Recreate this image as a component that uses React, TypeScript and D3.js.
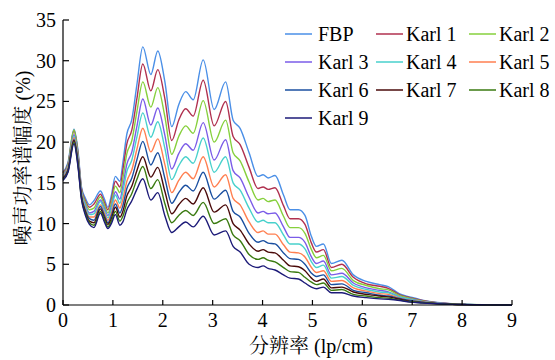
import React from "react";
import * as d3 from "d3";

const xs = [0, 0.1, 0.22, 0.3, 0.37, 0.45, 0.53, 0.62, 0.75, 0.83, 0.9, 0.97, 1.05, 1.14, 1.2, 1.28, 1.38, 1.48, 1.6, 1.76, 1.9, 2.04, 2.18, 2.32, 2.46, 2.61, 2.81, 3.03, 3.26, 3.41, 3.55, 3.73, 3.91, 4.01, 4.11, 4.25, 4.42, 4.55, 4.72, 4.85, 4.98, 5.08, 5.22, 5.38, 5.59, 5.82, 6.08, 6.35, 6.52, 6.75, 6.95, 7.2, 7.5, 7.8, 8.1, 8.5, 9];

const fbp = [16.3, 17.5, 21.6, 19.0, 14.5, 13.1, 12.3, 12.8, 14.0, 13.0, 12.0, 13.5, 15.8, 15.2, 17.5, 21.0, 22.8, 27.0, 31.7, 28.3, 31.2, 27.5, 21.9, 24.6, 26.2, 25.2, 30.1, 24.0, 27.4, 22.7, 21.7, 18.7, 15.8, 16.0, 15.6, 15.9, 13.5, 11.7, 11.7, 11.0, 8.4, 7.2, 7.5, 5.1, 5.5, 3.7, 2.9, 2.5, 2.25, 1.35, 1.0, 0.6, 0.3, 0.15, 0.08, 0.03, 0];
const karl1 = [16.2, 17.3, 21.4, 18.7, 14.3, 12.8, 12.0, 12.4, 13.6, 12.6, 11.7, 13.0, 15.2, 14.5, 16.6, 19.8, 21.5, 25.3, 29.6, 26.3, 28.9, 25.4, 20.2, 22.7, 24.1, 23.2, 27.6, 22.0, 25.0, 20.7, 19.7, 16.9, 14.3, 14.5, 14.2, 14.4, 12.2, 10.6, 10.6, 9.9, 7.6, 6.5, 6.8, 4.6, 5.0, 3.4, 2.6, 2.3, 2.05, 1.25, 0.9, 0.55, 0.28, 0.14, 0.07, 0.03, 0];
const karl2 = [16.0, 17.2, 21.5, 18.5, 14.1, 12.6, 11.7, 11.9, 13.3, 12.3, 11.3, 12.6, 14.6, 13.8, 15.6, 18.6, 20.2, 23.7, 27.4, 24.3, 26.7, 23.2, 18.5, 20.7, 22.0, 21.1, 25.1, 20.0, 22.7, 18.7, 17.7, 15.1, 12.9, 13.1, 12.7, 12.9, 10.9, 9.5, 9.5, 8.8, 6.8, 5.8, 6.1, 4.2, 4.5, 3.0, 2.4, 2.0, 1.85, 1.15, 0.85, 0.5, 0.26, 0.13, 0.07, 0.03, 0];
const karl3 = [15.9, 17.0, 20.9, 18.2, 13.9, 12.3, 11.3, 11.5, 12.9, 11.9, 11.0, 12.1, 13.9, 13.0, 14.6, 17.3, 18.8, 21.9, 25.3, 22.1, 24.2, 20.9, 16.7, 18.6, 19.8, 19.0, 22.4, 17.8, 20.3, 16.5, 15.6, 13.2, 11.3, 11.5, 11.2, 11.3, 9.6, 8.3, 8.3, 7.7, 5.9, 5.1, 5.4, 3.7, 3.9, 2.7, 2.1, 1.8, 1.6, 1.0, 0.75, 0.45, 0.24, 0.12, 0.06, 0.03, 0];
const karl4 = [15.8, 16.9, 20.7, 18.0, 13.8, 12.1, 11.1, 11.2, 12.7, 11.6, 10.7, 11.8, 13.5, 12.5, 13.9, 16.4, 17.8, 20.6, 23.6, 20.6, 22.5, 19.3, 15.4, 17.1, 18.2, 17.4, 20.5, 16.3, 18.2, 15.0, 14.1, 11.9, 10.2, 10.4, 10.1, 10.1, 8.6, 7.5, 7.5, 6.9, 5.3, 4.6, 4.9, 3.3, 3.5, 2.4, 1.9, 1.6, 1.5, 0.95, 0.7, 0.42, 0.22, 0.11, 0.06, 0.02, 0];
const karl5 = [15.7, 16.8, 20.5, 17.8, 13.6, 11.8, 10.8, 10.8, 12.3, 11.3, 10.4, 11.3, 12.9, 11.9, 13.0, 15.2, 16.6, 19.1, 21.7, 18.8, 20.4, 17.3, 13.8, 15.3, 16.3, 15.5, 18.2, 14.5, 16.0, 13.1, 12.3, 10.2, 8.9, 9.1, 8.7, 8.7, 7.4, 6.5, 6.4, 5.9, 4.6, 4.0, 4.2, 2.9, 3.0, 2.1, 1.7, 1.4, 1.3, 0.85, 0.6, 0.38, 0.2, 0.1, 0.05, 0.02, 0];
const karl6 = [15.6, 16.6, 20.3, 17.6, 13.4, 11.6, 10.6, 10.4, 12.1, 11.0, 10.1, 11.0, 12.4, 11.3, 12.2, 14.3, 15.6, 17.8, 20.1, 17.2, 18.7, 15.6, 12.5, 13.8, 14.7, 14.0, 16.3, 13.0, 14.1, 11.5, 10.8, 8.8, 7.7, 7.9, 7.6, 7.5, 6.4, 5.7, 5.6, 5.0, 3.9, 3.5, 3.7, 2.5, 2.6, 1.8, 1.5, 1.2, 1.1, 0.8, 0.55, 0.35, 0.19, 0.1, 0.05, 0.02, 0];
const karl7 = [15.5, 16.5, 20.2, 17.4, 13.3, 11.4, 10.3, 10.1, 11.8, 10.7, 9.9, 10.6, 12.0, 10.8, 11.5, 13.4, 14.6, 16.5, 18.2, 15.7, 16.9, 14.0, 11.2, 12.3, 13.1, 12.4, 14.4, 11.4, 12.3, 10.0, 9.2, 7.5, 6.6, 6.8, 6.5, 6.4, 5.5, 4.8, 4.7, 4.2, 3.3, 2.9, 3.2, 2.1, 2.2, 1.6, 1.3, 1.1, 1.0, 0.7, 0.45, 0.3, 0.17, 0.09, 0.05, 0.02, 0];
const karl8 = [15.4, 16.4, 20.0, 17.2, 13.1, 11.2, 10.1, 9.8, 11.5, 10.5, 9.6, 10.3, 11.5, 10.3, 10.9, 12.5, 13.7, 15.4, 17.0, 14.3, 15.4, 12.5, 10.1, 11.0, 11.6, 11.0, 12.6, 10.0, 10.6, 8.6, 7.9, 6.2, 5.6, 5.8, 5.5, 5.3, 4.6, 4.1, 4.0, 3.4, 2.8, 2.5, 2.7, 1.8, 1.9, 1.3, 1.1, 0.9, 0.85, 0.6, 0.4, 0.28, 0.16, 0.09, 0.04, 0.02, 0];
const karl9 = [15.3, 16.3, 19.8, 17.0, 13.0, 11.0, 9.9, 9.5, 11.3, 10.2, 9.4, 10.0, 11.1, 9.8, 10.2, 11.7, 12.8, 14.2, 15.5, 12.9, 13.8, 11.0, 8.9, 9.6, 10.2, 9.6, 10.9, 8.6, 9.1, 7.2, 6.5, 5.0, 4.6, 4.8, 4.5, 4.3, 3.7, 3.3, 3.2, 2.7, 2.2, 2.0, 2.2, 1.5, 1.5, 1.1, 0.9, 0.75, 0.7, 0.55, 0.35, 0.25, 0.15, 0.08, 0.04, 0.02, 0];

const seriesNames = ["FBP", "Karl 1", "Karl 2", "Karl 3", "Karl 4", "Karl 5", "Karl 6", "Karl 7", "Karl 8", "Karl 9"];
const seriesValues = [fbp, karl1, karl2, karl3, karl4, karl5, karl6, karl7, karl8, karl9];
const seriesColors = ["#4a8fe7", "#b0304f", "#86d03c", "#7b5ce8", "#48d1cc", "#ff7f50", "#1a4fa0", "#4a0a0a", "#3a7a10", "#1c1a78"];

const xTicks = [0, 1, 2, 3, 4, 5, 6, 7, 8, 9];
const yTicks = [0, 5, 10, 15, 20, 25, 30, 35];

const SERIF = "Liberation Serif";
const CJK = "Noto Serif CJK SC";

export default function App() {
  const x = d3.scaleLinear().domain([0, 9]).range([63, 512]);
  const y = d3.scaleLinear().domain([0, 35]).range([305, 20]);
  const line = d3
    .line<[number, number]>()
    .x((d) => x(d[0]))
    .y((d) => y(Math.max(0, d[1])))
    .curve(d3.curveMonotoneX);

  const colX = [285, 376, 469];

  return (
    <svg width={555} height={360} style={{ position: "absolute", left: 0, top: 0, background: "#fff" }}>
      <g>
        {seriesValues.map((vals, i) => (
          <path
            key={seriesNames[i]}
            d={line(xs.map((v, j) => [v, vals[j]] as [number, number])) as string}
            fill="none"
            stroke={seriesColors[i]}
            strokeWidth={1.4}
          />
        ))}
      </g>
      <g stroke="#000" strokeWidth={1.2}>
        <line x1={63} x2={63} y1={y(35)} y2={y(0)} />
        <line x1={63} x2={x(9)} y1={y(0)} y2={y(0)} />
        {yTicks.map((t) => (
          <line key={"yt" + t} x1={63} x2={69} y1={y(t)} y2={y(t)} />
        ))}
        {xTicks.map((t) => (
          <line key={"xt" + t} x1={x(t)} x2={x(t)} y1={y(0)} y2={y(0) - 5} />
        ))}
      </g>
      {yTicks.map((t) => (
        <text key={"yl" + t} x={56} y={y(t)} dy="0.35em" textAnchor="end" fontSize={20} style={{ fontFamily: SERIF }}>
          {t}
        </text>
      ))}
      {xTicks.map((t) => (
        <text key={"xl" + t} x={x(t)} y={327} textAnchor="middle" fontSize={20} style={{ fontFamily: SERIF }}>
          {t}
        </text>
      ))}
      <text x={311} y={353} textAnchor="middle" fontSize={20}>
        <tspan style={{ fontFamily: CJK }}>分辨率</tspan>
        <tspan style={{ fontFamily: SERIF }}> (lp/cm)</tspan>
      </text>
      <text transform="translate(30,158) rotate(-90)" textAnchor="middle" fontSize={20}>
        <tspan style={{ fontFamily: CJK }}>噪声功率谱幅度</tspan>
        <tspan style={{ fontFamily: SERIF }}> (%)</tspan>
      </text>
      {seriesNames.map((name, i) => {
        const r = Math.floor(i / 3);
        const c = i % 3;
        const ly = 34 + r * 28;
        return (
          <g key={"lg" + name}>
            <line x1={colX[c]} x2={colX[c] + 27} y1={ly} y2={ly} stroke={seriesColors[i]} strokeWidth={1.5} />
            <text x={colX[c] + (c === 0 ? 33 : 30)} y={ly} dy="0.35em" fontSize={20} style={{ fontFamily: SERIF }}>
              {name}
            </text>
          </g>
        );
      })}
    </svg>
  );
}
